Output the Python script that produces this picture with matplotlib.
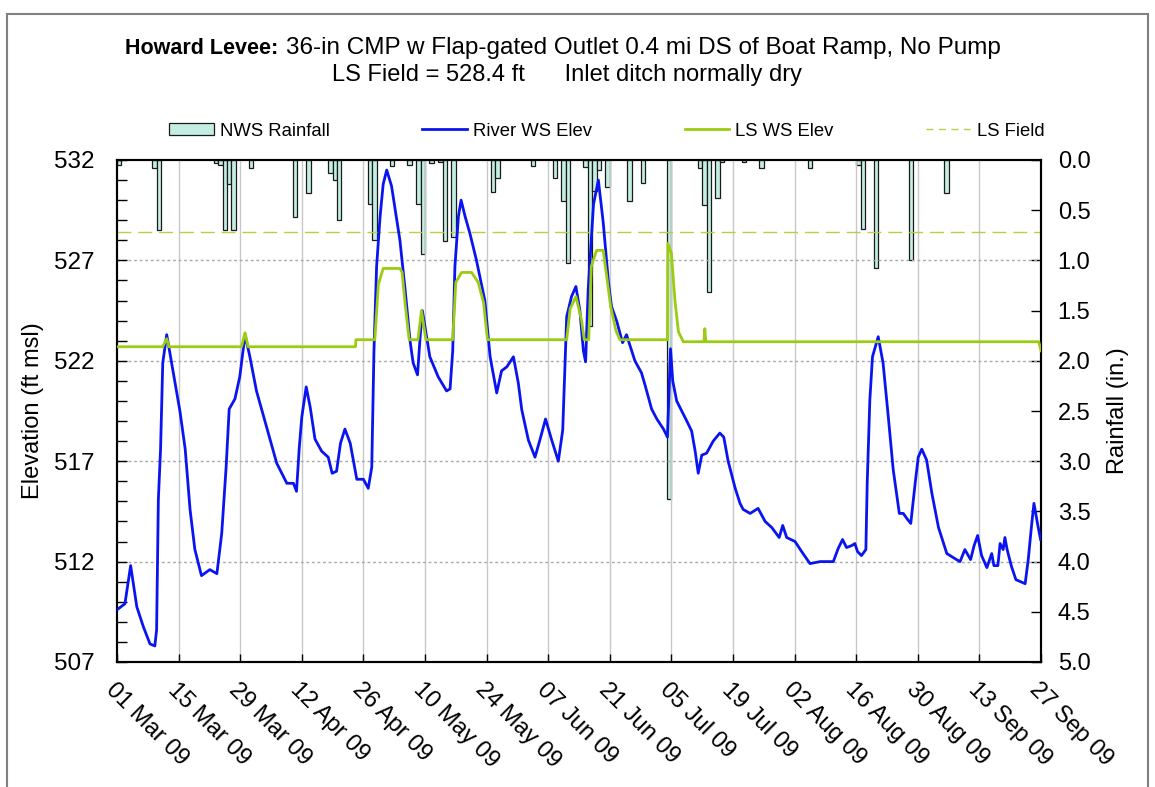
import datetime as dt

import matplotlib
matplotlib.use("Agg")
import matplotlib.pyplot as plt
import matplotlib.dates as mdates
from matplotlib.lines import Line2D
from matplotlib.patches import Patch, Rectangle
import numpy as np

plt.rcParams['font.family'] = ['Liberation Sans', 'DejaVu Sans']

start = dt.datetime(2009, 3, 1)

# daily NWS rainfall (in.), day offsets from 01 Mar 09
rain_day = [0, 8, 9, 22, 23, 24, 25, 26, 30, 40, 43, 48, 49, 50, 57, 58, 62, 66,
            68, 69, 71, 73, 74, 76, 85, 86, 94, 99, 101, 102, 106, 107, 108, 109,
            111, 116, 119, 125, 132, 133, 134, 136, 137, 142, 146, 157, 168, 169,
            172, 180, 188]
rain_in = [0.05, 0.08, 0.70, 0.03, 0.05, 0.70, 0.24, 0.70, 0.08, 0.57, 0.33, 0.13,
           0.20, 0.60, 0.44, 0.80, 0.06, 0.05, 0.44, 0.94, 0.03, 0.02, 0.81, 0.77,
           0.32, 0.18, 0.06, 0.18, 0.41, 1.03, 0.07, 1.65, 0.31, 0.10, 0.27, 0.41,
           0.23, 3.38, 0.08, 0.45, 1.31, 0.38, 0.02, 0.02, 0.08, 0.08, 0.05, 0.69,
           1.08, 1.00, 0.33]

# river water surface elevation (ft msl)
river_day = [0.0, 1.8, 3.1, 4.5, 6.0, 7.5, 8.6, 9.0, 9.4, 9.9, 10.4, 11.3, 12.4,
             14.3, 15.5, 16.6, 17.7, 19.2, 21.1, 22.7, 23.8, 24.8, 25.5, 26.8,
             27.9, 29.1, 30.2, 31.7, 34.0, 36.3, 38.6, 40.1, 40.8, 41.4, 42.0,
             43.0, 43.9, 45.0, 46.5, 48.0, 48.9, 49.9, 50.8, 51.8, 53.0, 54.5,
             56.0, 57.1, 57.9, 58.4, 59.0, 59.8, 60.5, 61.3, 62.4, 64.3, 65.5,
             66.6, 67.3, 68.3, 68.9, 69.4, 70.0, 71.1, 73.0, 74.9, 75.7, 76.3,
             76.8, 77.6, 78.2, 79.1, 80.2, 81.7, 83.6, 84.8, 86.3, 87.4, 88.6,
             90.1, 91.2, 92.0, 93.5, 95.0, 96.1, 97.4, 98.8, 100.3, 101.3, 102.2,
             103.3, 104.3, 105.2, 106.0, 106.5, 107.1, 108.3, 109.4, 110.5, 111.7,
             112.4, 113.6, 114.9, 115.8, 117.7, 119.2, 120.0, 121.5, 122.7, 124.2,
             125.1, 125.8, 126.3, 127.2, 129.5, 130.6, 131.4, 132.1, 132.9, 134.0,
             135.5, 137.0, 137.9, 138.9, 140.5, 141.6, 142.3, 143.9, 145.7, 147.3,
             148.8, 150.5, 151.3, 152.2, 154.1, 155.6, 157.5, 159.8, 162.8, 163.9,
             164.9, 165.8, 167.0, 167.7, 168.3, 169.2, 170.2, 170.5, 171.1, 171.7,
             173.0, 174.1, 175.3, 176.4, 177.8, 178.7, 179.5, 180.4, 181.4, 182.1,
             182.9, 184.0, 185.2, 186.7, 188.6, 190.8, 191.6, 192.7, 194.0, 194.8,
             195.6, 196.5, 197.7, 198.8, 199.3, 200.2, 200.7, 201.4, 201.8, 202.3,
             203.3, 204.3, 206.4, 207.1, 207.9, 208.4, 209.2, 209.9]
river_elev = [509.6, 509.9, 511.8, 509.75, 508.75, 507.9, 507.8, 508.6, 515.1,
              517.6, 521.9, 523.3, 521.9, 519.5, 517.6, 514.6, 512.6, 511.3, 511.6,
              511.4, 513.4, 516.7, 519.6, 520.1, 521.2, 523.3, 522.2, 520.5, 518.7,
              516.9, 515.9, 515.9, 515.5, 517.6, 519.2, 520.7, 519.7, 518.1, 517.5,
              517.2, 516.4, 516.5, 517.9, 518.6, 517.9, 516.1, 516.1, 515.65, 516.7,
              522.5, 526.7, 529.2, 530.8, 531.5, 530.7, 528.0, 525.5, 523.0, 521.9,
              521.3, 523.2, 524.5, 523.7, 522.2, 521.2, 520.5, 520.6, 522.5, 526.7,
              529.2, 530.0, 529.2, 528.35, 527.0, 525.0, 522.2, 520.4, 521.5, 521.7,
              522.2, 520.9, 519.55, 518.05, 517.2, 518.05, 519.1, 518.05, 517.0,
              518.55, 524.2, 525.2, 525.7, 524.5, 522.5, 521.95, 525.6, 529.8,
              531.0, 528.9, 525.9, 524.7, 523.95, 522.9, 523.3, 522.0, 521.4, 520.8,
              519.6, 519.1, 518.6, 518.2, 522.6, 521.0, 520.0, 519.0, 518.5, 517.5,
              516.4, 517.3, 517.4, 518.0, 518.4, 518.2, 517.0, 515.65, 514.9, 514.6,
              514.4, 514.65, 514.0, 513.7, 513.2, 513.8, 513.2, 513.0, 512.5, 511.9,
              512.0, 512.0, 512.65, 513.1, 512.7, 512.8, 512.9, 512.5, 512.3, 512.6,
              515.9, 520.05, 522.2, 523.2, 521.9, 519.2, 516.6, 514.4, 514.4, 514.15,
              513.9, 515.9, 517.2, 517.6, 517.06, 515.4, 513.7, 512.4, 512.1, 512.0,
              512.6, 512.1, 512.8, 513.3, 512.3, 511.7, 512.4, 511.8, 511.8, 512.9,
              512.6, 513.2, 512.6, 511.75, 511.1, 510.9, 512.1, 513.9, 514.9, 513.9,
              513.1]

# landside water surface elevation (ft msl)
ls_day = [0.0, 10.4, 11.3, 11.8, 28.3, 29.1, 29.8, 54.2, 54.3, 58.6, 59.4, 60.5,
          64.3, 64.8, 65.5, 66.4, 68.4, 69.2, 70.2, 76.3, 77.0, 78.3, 80.6, 82.1,
          83.3, 84.2, 102.2, 103.0, 104.3, 105.6, 106.2, 107.2, 107.8, 109.0,
          110.5, 111.3, 112.2, 113.4, 114.3, 125.1, 125.2, 126.0, 126.8, 127.6,
          128.7, 133.4, 133.6, 133.8, 209.5, 210.0]
ls_elev = [522.7, 522.7, 523.1, 522.7, 522.7, 523.4, 522.7, 522.7, 523.05, 523.05,
           525.8, 526.6, 526.6, 526.4, 524.8, 523.05, 523.05, 524.5, 523.05, 523.05,
           525.9, 526.4, 526.4, 525.9, 524.9, 523.05, 523.05, 524.6, 525.2, 524.0,
           523.05, 523.05, 526.7, 527.5, 527.5, 526.2, 524.7, 523.5, 523.05, 523.05,
           527.85, 527.35, 525.0, 523.45, 522.95, 522.95, 523.6, 522.95, 522.95,
           522.5]

ls_field = 528.4

tick_days = np.arange(0, 211, 14)

t0 = mdates.date2num(start)

fig = plt.figure(figsize=(11.55, 7.87), dpi=100)
ax = fig.add_axes([117 / 1155, 125 / 787, 924 / 1155, 502 / 787])
ax2 = ax.twinx()
ax.set_zorder(ax2.get_zorder() + 1)
ax.patch.set_visible(False)

# rainfall bars hang from the top of the secondary axis
ax2.bar(t0 + np.array(rain_day), rain_in, width=1.0, align='edge',
        color='#c4eee3', edgecolor='#1a1a1a', linewidth=0.9)
ax2.set_ylim(5.0, 0.0)
ax2.set_yticks(np.arange(0, 5.01, 0.5))
ax2.yaxis.set_major_formatter(plt.FormatStrFormatter('%.1f'))
ax2.tick_params(axis='y', direction='in', length=7, width=1, labelsize=17, pad=12)
ax2.set_ylabel('Rainfall (in.)', fontsize=17, labelpad=12)

ax.plot(t0 + np.array(river_day), river_elev, color='#0a14f0', lw=2.0, zorder=3)
ax.plot(t0 + np.array(ls_day), ls_elev, color='#9ccc10', lw=2.0, zorder=4)
ax.axhline(ls_field, color='#b9cd45', lw=1.0, dashes=(10, 5), zorder=2)

ax.set_xlim(t0, t0 + 210)
ax.set_ylim(507, 532)
ax.set_yticks(np.arange(507, 533, 5))
ax.set_yticks(np.arange(507, 533, 1), minor=True)
ax.tick_params(axis='y', which='both', direction='in', width=1, labelsize=17.5, pad=16)
ax.tick_params(axis='y', which='major', length=7)
ax.tick_params(axis='y', which='minor', length=7)
ax.set_ylabel('Elevation (ft msl)', fontsize=17, labelpad=7)

ax.set_xticks(t0 + tick_days)
ax.set_xticklabels([mdates.num2date(t0 + d).strftime('%d %b %y') for d in tick_days],
                   rotation=-45, ha='left', va='top', rotation_mode='anchor', fontsize=17)
ax.tick_params(axis='x', direction='in', length=6, width=1, pad=12)

for d in tick_days[1:-1]:
    ax.axvline(t0 + d, color='#c8c8c8', lw=1.0, zorder=0)
for y in range(512, 532, 5):
    ax.axhline(y, color='#a8a8a8', lw=1.0, ls=(0, (2, 2)), zorder=0)

for sp in ax.spines.values():
    sp.set_linewidth(1.5)
for sp in ax2.spines.values():
    sp.set_linewidth(1.5)

handles = [Patch(facecolor='#c4eee3', edgecolor='#1a1a1a', linewidth=0.9),
           Line2D([], [], color='#0a14f0', lw=2.0),
           Line2D([], [], color='#9ccc10', lw=2.0),
           Line2D([], [], color='#b9cd45', lw=1.0, dashes=(5, 4))]
labels = ['NWS Rainfall', 'River WS Elev', 'LS WS Elev', 'LS Field']
fig.legend(handles, labels, ncol=4, loc='center', bbox_to_anchor=(607 / 1155, 1 - 131 / 787),
           frameon=False, fontsize=13.3, handlelength=2.4, handleheight=0.6,
           handletextpad=0.35, columnspacing=5.0, borderpad=0)

# title, bold site name followed by the description
renderer = fig.canvas.get_renderer()
base1 = 1 - 54 / 787
t1 = fig.text(125 / 1155, base1, 'Howard Levee:', fontsize=15.5, fontweight='bold',
              ha='left', va='baseline')
bb = t1.get_window_extent(renderer)
fig.text((bb.x1 + 8) / 1155, base1,
         '36-in CMP w Flap-gated Outlet 0.4 mi DS of Boat Ramp, No Pump',
         fontsize=17.5, ha='left', va='baseline')
fig.text(567 / 1155, 1 - 75 / 787, 'LS Field = 528.4 ft      Inlet ditch normally dry',
         fontsize=17, ha='center', va='center')

fig.patches.append(Rectangle((7 / 1155, -0.01), 1141 / 1155, 1 - 14 / 787 + 0.01,
                             transform=fig.transFigure, fill=False,
                             edgecolor='#808080', lw=1.5))

fig.savefig('out.png', dpi=100)
